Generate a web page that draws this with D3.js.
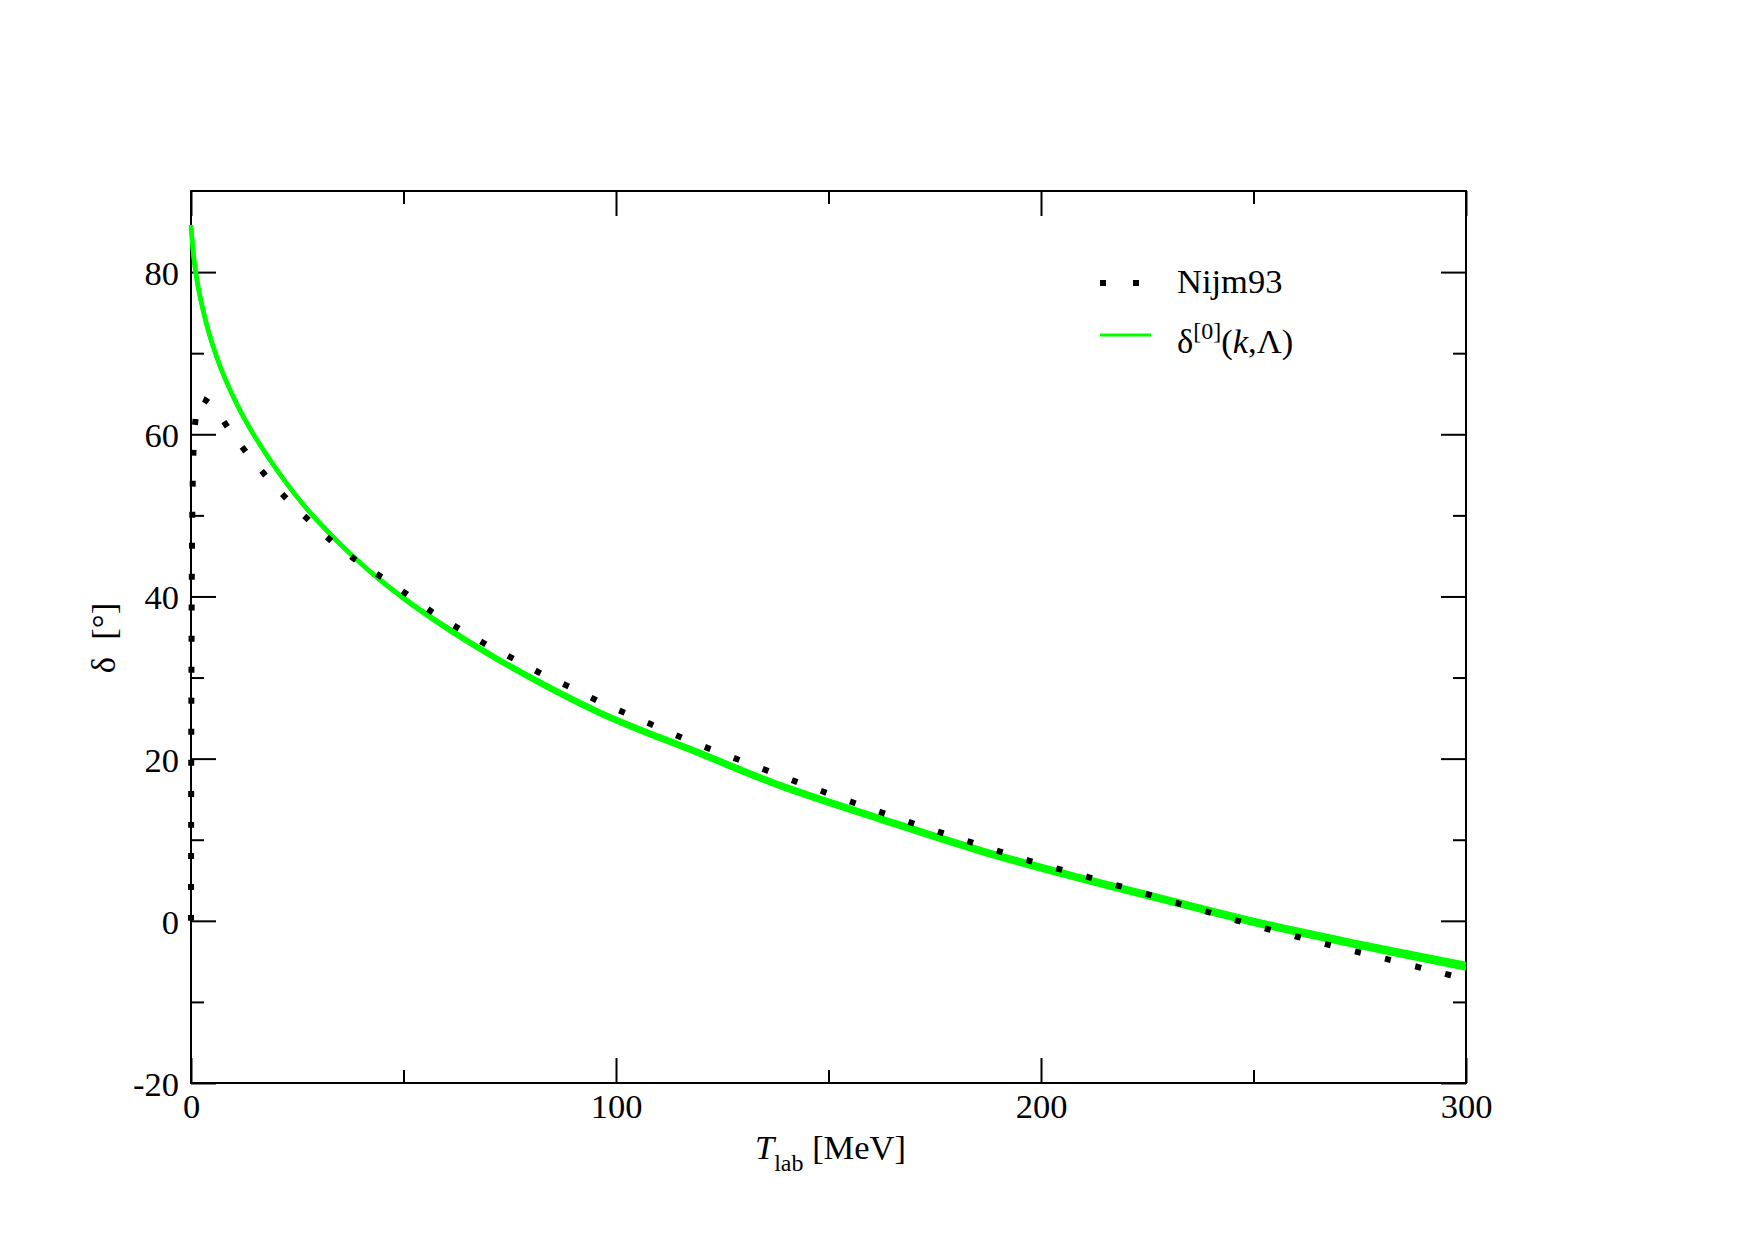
<!DOCTYPE html>
<html>
<head>
<meta charset="utf-8">
<script src="https://cdn.jsdelivr.net/npm/d3@7"></script>
<style>
  body { margin: 0; background: #fff; }
</style>
</head>
<body>
<div id="chart_div"></div>
<script>
// data
var nijmT = [0, 0.1, 0.3, 0.6, 1, 2, 4, 6.3, 10.2, 14.2, 18.9, 23.7, 29.2, 34.2, 40.1, 46, 52.1, 58.1, 64.2,
  70.4, 76.7, 83.1, 89.7, 96.2, 102.7, 109.3, 115.9, 122.6, 129.2, 142.7, 156.3, 170, 183.5, 197.3,
  211.1, 224.9, 238.8, 252.5, 266.5, 280.4, 294.4, 300];
var nijmDelta = [0, 30, 50, 58, 61.5, 64.4, 64, 62.6, 59.7, 57.0, 54.1, 51.4, 48.7, 46.3, 44.0, 42.0, 39.8, 37.6, 35.7,
  33.8, 32.1, 30.3, 28.7, 27.0, 25.5, 24.0, 22.5, 21.1, 19.8, 17.1, 14.5, 12.0, 9.7, 7.4,
  5.4, 3.3, 1.15, -0.9, -2.8, -4.6, -6.45, -7.2];

var lo0T = [0, 0.5, 1, 2, 4, 6, 8, 11, 14, 18, 22, 26, 30, 38, 46, 57, 73, 96, 120, 139, 162, 186, 209, 233, 249, 273, 300];
// upper and lower edge of the green band (several cutoffs lying on top of each other)
var lo0DeltaA = [85.8, 82.6, 80.4, 77.3, 72.9, 69.6, 66.9, 63.5, 60.6, 57.3, 54.3, 51.6, 49.2, 45.0, 41.45, 37.3,
  32.12, 25.85, 20.77, 16.79, 12.8, 8.81, 5.52, 2.33, 0.24, -2.5, -5.33];
var lo0DeltaB = [85.8, 82.6, 80.4, 77.3, 72.9, 69.6, 66.9, 63.5, 60.6, 57.3, 54.3, 51.6, 49.2, 45.0, 41.35, 37.1,
  31.88, 25.55, 20.43, 16.41, 12.4, 8.39, 5.08, 1.87, -0.24, -3.0, -5.87];

var xTicksMajor = [0, 100, 200, 300];
var xTicksMinor = [50, 150, 250];
var yTicksMajor = [-20, 0, 20, 40, 60, 80];
var yTicksMinor = [-10, 10, 30, 50, 70];

var margin = { top: 191, right: 289, bottom: 157, left: 191 },
  width = 1755 - margin.left - margin.right,
  height = 1240 - margin.top - margin.bottom;

var fontFam = "'Liberation Serif', 'Times New Roman', serif";
var fontSize = 34.5;

var svg = d3.select("#chart_div")
  .append("svg")
  .attr("width", 1755)
  .attr("height", 1240)
  .style("background", "#fff")
  .append("g")
  .attr("transform", "translate(" + margin.left + "," + margin.top + ")");

var x = d3.scaleLinear().domain([0, 300]).range([0, width]);
var y = d3.scaleLinear().domain([-20, 90]).range([height, 0]);

// plain hyphen for negatives, like the original
function plain(d) { return String(d); }

// axes - ticks point inward on all four sides
function drawAxis(axis, tr) {
  var g = svg.append("g")
    .attr("transform", tr)
    .call(axis)
    .attr("font-family", fontFam)
    .attr("font-size", fontSize);
  g.select(".domain").remove();
  g.selectAll(".tick line").attr("stroke", "#000").attr("stroke-width", 2);
  g.selectAll(".tick text").attr("fill", "#000");
  return g;
}

drawAxis(d3.axisBottom(x).tickValues(xTicksMajor).tickSize(-25).tickPadding(11).tickFormat(plain), "translate(0," + height + ")");
drawAxis(d3.axisBottom(x).tickValues(xTicksMinor).tickSize(-13).tickFormat(""), "translate(0," + height + ")");
drawAxis(d3.axisTop(x).tickValues(xTicksMajor).tickSize(-25).tickFormat(""), "translate(0,0)");
drawAxis(d3.axisTop(x).tickValues(xTicksMinor).tickSize(-13).tickFormat(""), "translate(0,0)");

var yl = drawAxis(d3.axisLeft(y).tickValues(yTicksMajor).tickSize(-25).tickPadding(12).tickFormat(plain), "translate(0,0)");
yl.selectAll(".tick text").attr("dy", "0.36em");
drawAxis(d3.axisLeft(y).tickValues(yTicksMinor).tickSize(-13).tickFormat(""), "translate(0,0)");
drawAxis(d3.axisRight(y).tickValues(yTicksMajor).tickSize(-25).tickFormat(""), "translate(" + width + ",0)");
drawAxis(d3.axisRight(y).tickValues(yTicksMinor).tickSize(-13).tickFormat(""), "translate(" + width + ",0)");

// frame
svg.append("rect")
  .attr("x", 0).attr("y", 0)
  .attr("width", width).attr("height", height)
  .attr("fill", "none")
  .attr("stroke", "#000")
  .attr("stroke-width", 2);

// curves
var line = d3.line()
  .x(function(d) { return x(d[0]); })
  .y(function(d) { return y(d[1]); })
  .curve(d3.curveCatmullRom.alpha(0.5));

[lo0DeltaA, lo0DeltaB].forEach(function(vals) {
  svg.append("path")
    .datum(lo0T.map(function(t, i) { return [t, vals[i]]; }))
    .attr("d", line)
    .attr("fill", "none")
    .attr("stroke", "#00ff00")
    .attr("stroke-width", 4.5);
});

svg.append("path")
  .datum(nijmT.map(function(t, i) { return [t, nijmDelta[i]]; }))
  .attr("d", line)
  .attr("fill", "none")
  .attr("stroke", "#000")
  .attr("stroke-width", 6)
  .attr("stroke-dasharray", "6,25");

// legend
var leg = svg.append("g")
  .attr("transform", "translate(" + (1100 - margin.left) + "," + (283 - margin.top) + ")");
leg.append("line")
  .attr("x1", 0).attr("x2", 51).attr("y1", 0).attr("y2", 0)
  .attr("stroke", "#000").attr("stroke-width", 6)
  .attr("stroke-dasharray", "6,27");
leg.append("text")
  .attr("x", 77).attr("y", 10)
  .attr("font-family", fontFam).attr("font-size", fontSize)
  .text("Nijm93");
leg.append("line")
  .attr("x1", 0).attr("x2", 51).attr("y1", 52).attr("y2", 52)
  .attr("stroke", "#00ff00").attr("stroke-width", 3);
var lt = leg.append("text")
  .attr("x", 77).attr("y", 70)
  .attr("font-family", fontFam).attr("font-size", fontSize);
lt.append("tspan").text("\u03b4");
lt.append("tspan").attr("font-size", 24).attr("dy", -14).text("[0]");
lt.append("tspan").attr("dy", 14).text("(");
lt.append("tspan").attr("font-style", "italic").text("k");
lt.append("tspan").text(",\u039b)");

// axis titles
var xt = svg.append("text")
  .attr("x", width / 2 + 2)
  .attr("y", height + 76)
  .attr("text-anchor", "middle")
  .attr("font-family", fontFam)
  .attr("font-size", fontSize);
xt.append("tspan").attr("font-style", "italic").text("T");
xt.append("tspan").attr("font-size", 24).attr("dy", 12).text("lab");
xt.append("tspan").attr("dy", -12).text(" [MeV]");

svg.append("text")
  .attr("transform", "translate(" + (115 - margin.left) + "," + (638 - margin.top) + ") rotate(-90)")
  .attr("text-anchor", "middle")
  .attr("font-family", fontFam)
  .attr("font-size", fontSize)
  .text("\u03b4\u00a0\u00a0[\u00b0]");
</script>
</body>
</html>
